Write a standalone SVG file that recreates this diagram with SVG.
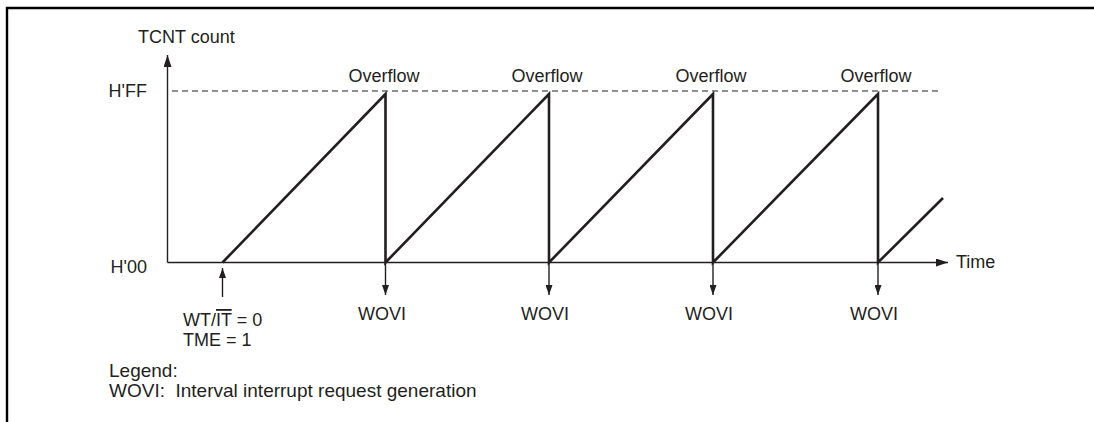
<svg xmlns="http://www.w3.org/2000/svg" width="1094" height="422" viewBox="0 0 1094 422">
<style>
text{font-family:"Liberation Sans",Arial,sans-serif;font-size:18px;fill:#231f20}
.leg{font-size:19px}
.ax{stroke:#231f20;stroke-width:1.4;fill:none}
.saw{stroke:#231f20;stroke-width:2.6;fill:none;stroke-linejoin:miter}
.dash{stroke:#231f20;stroke-width:1.2;stroke-dasharray:6 4;fill:none}
.frame{stroke:#000;stroke-width:2.4;fill:none}
.mid{text-anchor:middle}
</style>
<defs>
<marker id="ah" viewBox="0 0 12 8" refX="12" refY="4" markerWidth="12" markerHeight="8" markerUnits="userSpaceOnUse" orient="auto">
<path d="M0,0 L12,4 L0,8 Z" fill="#231f20"/>
</marker>
<marker id="sh" viewBox="0 0 10 7" refX="10" refY="3.5" markerWidth="10" markerHeight="7" markerUnits="userSpaceOnUse" orient="auto">
<path d="M0,0 L10,3.5 L0,7 Z" fill="#231f20"/>
</marker>
</defs>
<g id="frame"><path class="frame" d="M7,422 V8 H1094"/></g>
<g id="axes">
<line class="ax" x1="167.5" y1="262.5" x2="167.5" y2="55" marker-end="url(#ah)"/>
<line class="ax" x1="167.5" y1="262.5" x2="948" y2="262.5" marker-end="url(#ah)"/>
<line class="dash" x1="172" y1="91" x2="940" y2="91"/>
<text x="138" y="43">TCNT count</text>
<text x="147" y="97" text-anchor="end">H'FF</text>
<text x="147" y="273" text-anchor="end">H'00</text>
<text x="956" y="268">Time</text>
</g>
<g id="connectors">
<path class="saw" d="M222.5,262.5 L385.5,94 V262.5 L549,94 V262.5 L713,94 V262.5 L878,94 V262.5 L943,198"/>
<line class="ax" x1="222.5" y1="297" x2="222.5" y2="268" marker-end="url(#sh)"/>
<line class="ax" x1="385.5" y1="263" x2="385.5" y2="295" marker-end="url(#sh)"/>
<line class="ax" x1="549" y1="263" x2="549" y2="295" marker-end="url(#sh)"/>
<line class="ax" x1="713" y1="263" x2="713" y2="295" marker-end="url(#sh)"/>
<line class="ax" x1="878" y1="263" x2="878" y2="295" marker-end="url(#sh)"/>
</g>
<g id="overflow-labels">
<text class="mid" x="384" y="82">Overflow</text>
<text class="mid" x="547" y="82">Overflow</text>
<text class="mid" x="711" y="82">Overflow</text>
<text class="mid" x="876" y="82">Overflow</text>
</g>
<g id="wovi-labels">
<text class="mid" x="382" y="320">WOVI</text>
<text class="mid" x="545" y="320">WOVI</text>
<text class="mid" x="709" y="320">WOVI</text>
<text class="mid" x="874" y="320">WOVI</text>
</g>
<g id="start-label">
<text x="183" y="326">WT/<tspan style="text-decoration:overline">IT</tspan> = 0</text>
<text x="183" y="346">TME = 1</text>
</g>
<g id="legend">
<text class="leg" x="109" y="377">Legend:</text>
<text class="leg" x="109" y="397" xml:space="preserve">WOVI:  Interval interrupt request generation</text>
</g>
</svg>
